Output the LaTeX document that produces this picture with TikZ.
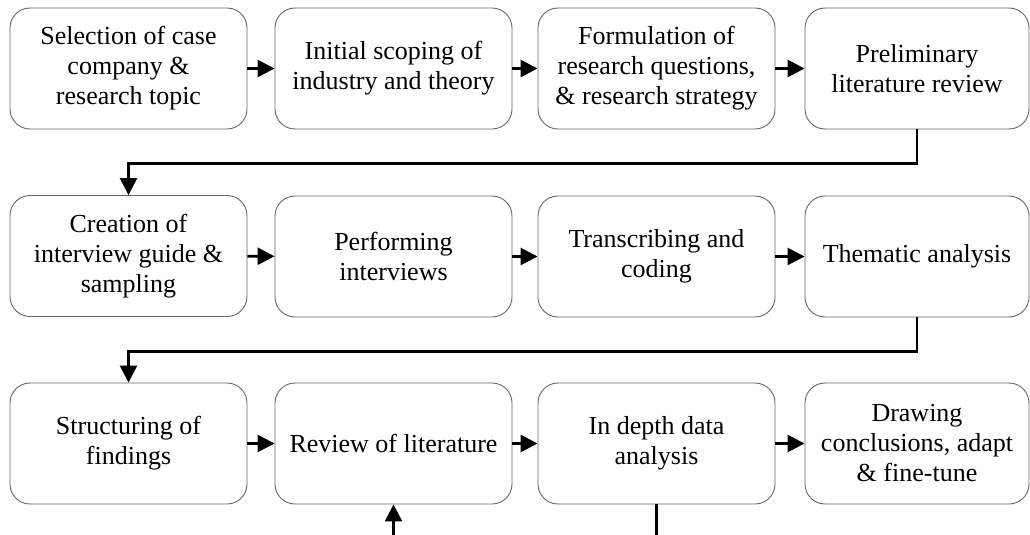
\documentclass[tikz,border=0pt]{standalone}
\usepackage{fontspec}
\setmainfont{Liberation Serif}
\usetikzlibrary{arrows.meta}

\tikzset{
  stage/.style={draw=black!60, line width=0.9pt, rounded corners=20pt,
    minimum width=237pt, minimum height=121pt, inner sep=0pt,
    align=center, font=\fontsize{26}{30}\selectfont},
  laststage/.style={stage, minimum width=224pt},
  flow/.style={line width=2.6pt, -{Triangle[length=17pt,width=17pt]}},
}

\begin{document}
\begin{tikzpicture}[x=1pt,y=-1pt]
  \useasboundingbox (0,0) rectangle (1030,535);
  \clip (0,0) rectangle (1030,535);

  % first row
  \node[stage] (s1) at (128.5,68.5) {Selection of case\\company \&\\research topic};
  \node[stage] (s2) at (393.5,68.5) {Initial scoping of\\industry and theory};
  \node[stage] (s3) at (656.5,68.5) {Formulation of\\research questions,\\\& research strategy};
  \node[laststage] (s4) at (917,68.5) {Preliminary\\literature review};

  % second row
  \node[stage] (s5) at (128.5,256) {Creation of\\interview guide \&\\sampling};
  \node[stage] (s6) at (393.5,256.5) {Performing\\interviews};
  \node[stage] (s7) at (656.5,256.5) {Transcribing and\\coding};
  \node[laststage] (s8) at (917,256.5) {Thematic analysis};

  % third row
  \node[stage] (s9) at (128.5,443.5) {Structuring of\\findings};
  \node[stage] (s10) at (393.5,443.5) {Review of literature};
  \node[stage] (s11) at (656.5,443.5) {In depth data\\analysis};
  \node[laststage] (s12) at (917,443.5) {Drawing\\conclusions, adapt\\\& fine-tune};

  % arrows within the rows
  \draw[flow] (s1) -- (s2);
  \draw[flow] (s2) -- (s3);
  \draw[flow] (s3) -- (s4);
  \draw[flow] (s5) -- (s6);
  \draw[flow] (s6) -- (s7);
  \draw[flow] (s7) -- (s8);
  \draw[flow] (s9) -- (s10);
  \draw[flow] (s10) -- (s11);
  \draw[flow] (s11) -- (s12);

  % returns to the start of the next row
  \draw[flow] (s4.south) -- ++(0,34) -| (s5.north);
  \draw[flow] (s8.south) -- ++(0,34) -| (s9.north);

  % feedback from the analysis back to the literature
  \coordinate (loop) at (656.5,560);
  \draw[flow] (s11.south) -- (loop) -| (s10.south);
\end{tikzpicture}
\end{document}
